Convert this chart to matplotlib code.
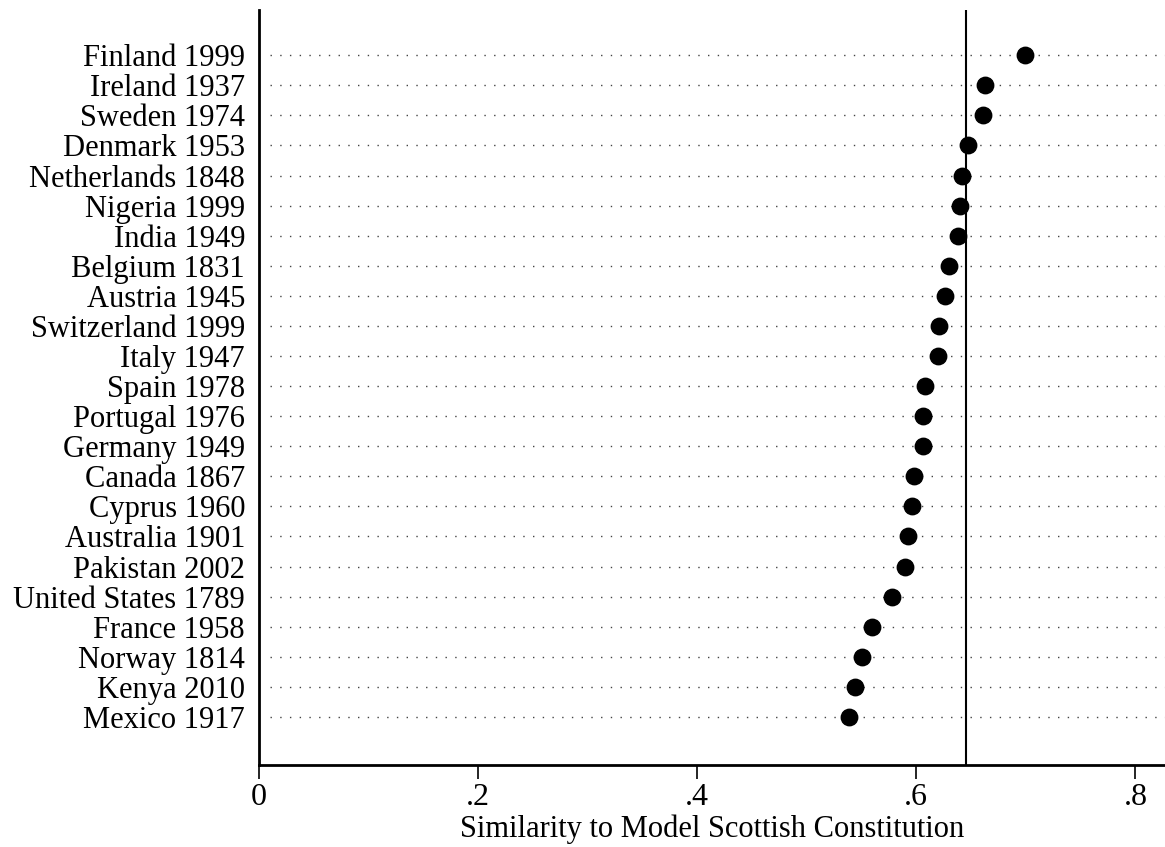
import matplotlib.pyplot as plt

# Constitutions, top to bottom, and their similarity scores
countries = ['Finland 1999', 'Ireland 1937', 'Sweden 1974', 'Denmark 1953',
             'Netherlands 1848', 'Nigeria 1999', 'India 1949', 'Belgium 1831',
             'Austria 1945', 'Switzerland 1999', 'Italy 1947', 'Spain 1978',
             'Portugal 1976', 'Germany 1949', 'Canada 1867', 'Cyprus 1960',
             'Australia 1901', 'Pakistan 2002', 'United States 1789',
             'France 1958', 'Norway 1814', 'Kenya 2010', 'Mexico 1917']
similarity = [0.699, 0.663, 0.661, 0.647, 0.642, 0.640, 0.638, 0.630,
              0.626, 0.621, 0.620, 0.608, 0.606, 0.606, 0.598, 0.596,
              0.592, 0.590, 0.578, 0.560, 0.550, 0.544, 0.539]
reference_line = 0.645
xticks = [0, 0.2, 0.4, 0.6, 0.8]
xticklabels = ['0', '.2', '.4', '.6', '.8']

plt.rcParams['font.family'] = ['Liberation Serif', 'DejaVu Serif']

fig = plt.figure(figsize=(11.65, 8.47), dpi=100)
ax = fig.add_axes([0.2223, 0.0968, 0.7777, 0.8912])

ypos = list(range(len(countries)))

# dotted guide lines for each row
for y in ypos:
    ax.axhline(y, xmin=0.012, xmax=1, color='#444444', linestyle=(0, (1, 6)),
               linewidth=1.0, zorder=1)

ax.axvline(reference_line, color='black', linewidth=1.5, zorder=2)
ax.scatter(similarity, ypos, s=140, color='black', zorder=3)

ax.set_xlim(0, 0.827)
ax.set_ylim(len(countries) - 1 + 1.6, -1.5)
ax.set_yticks(ypos)
ax.set_yticklabels(countries, fontsize=22)
ax.set_xticks(xticks)
ax.set_xticklabels(xticklabels, fontsize=23)
ax.set_xlabel('Similarity to Model Scottish Constitution', fontsize=22, labelpad=1.5)

ax.tick_params(axis='y', length=0, pad=10)
ax.tick_params(axis='x', length=10, width=1.2, pad=3)
ax.spines['top'].set_visible(False)
ax.spines['right'].set_visible(False)
ax.spines['left'].set_linewidth(2)
ax.spines['bottom'].set_linewidth(2)

fig.savefig('out.png', dpi=100)
